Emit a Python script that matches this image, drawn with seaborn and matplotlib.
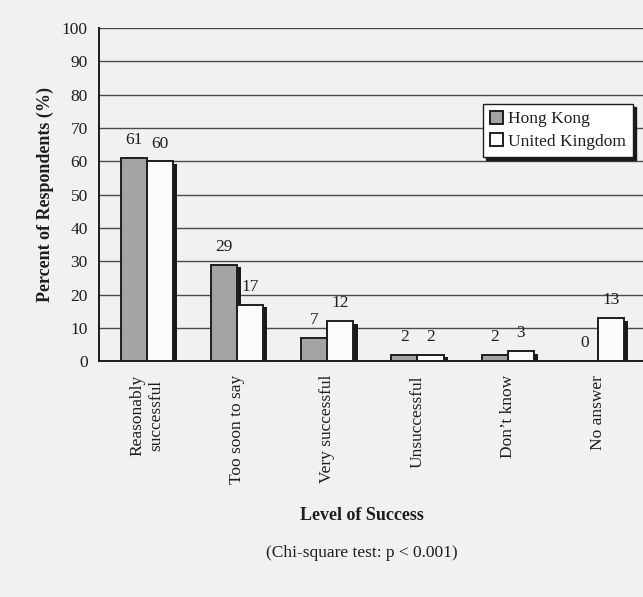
import pandas as pd
import matplotlib
matplotlib.use("Agg")
import matplotlib.pyplot as plt
import matplotlib.patheffects as pe
from matplotlib.patches import Patch
import seaborn as sns

# data
categories = ["Reasonably\nsuccessful", "Too soon to say", "Very successful",
              "Unsuccessful", "Don\u2019t know", "No answer"]
hong_kong = [61, 29, 7, 2, 2, 0]
united_kingdom = [60, 17, 12, 2, 3, 13]
groups = ["Hong Kong", "United Kingdom"]

df = pd.DataFrame({
    "category": categories * 2,
    "group": [groups[0]] * len(categories) + [groups[1]] * len(categories),
    "value": hong_kong + united_kingdom,
})

bg = "#f1f1f1"
ink = "#1e1e1e"
colors = {"Hong Kong": "#a3a3a3", "United Kingdom": "#fbfbfb"}

sns.set_style("white")
plt.rcParams["font.family"] = ["Liberation Serif", "DejaVu Serif"]
plt.rcParams["text.color"] = ink
plt.rcParams["axes.labelcolor"] = ink
plt.rcParams["xtick.color"] = ink
plt.rcParams["ytick.color"] = ink

fig = plt.figure(figsize=(6.43, 5.97), dpi=100, facecolor=bg)
ax = fig.add_axes([0.154, 0.395, 0.846, 0.558])
ax.set_facecolor(bg)

sns.barplot(data=df, x="category", y="value", hue="group", palette=colors,
            order=categories, hue_order=groups, width=0.58, gap=0,
            edgecolor=ink, linewidth=1.4, legend=False, ax=ax, zorder=3)

# dark drop shadow on the right side of each bar
shadow = [pe.SimplePatchShadow(offset=(3, -2), shadow_rgbFace="#1a1a1a", alpha=1.0),
          pe.Normal()]
for p in ax.patches:
    p.set_path_effects(shadow)

for cont in ax.containers:
    ax.bar_label(cont, padding=7, fontsize=12.5, color=ink)

ax.set_ylim(0, 100)
ax.set_xlim(-0.53, 5.46)
ax.set_yticks(range(0, 101, 10))
ax.yaxis.grid(True, color="#4a4a4a", linewidth=1.0, zorder=0)
ax.set_axisbelow(True)

ax.set_xticks(range(len(categories)))
ax.set_xticklabels(categories, rotation=90, fontsize=12.5, va="top", ha="center",
                   linespacing=1.25)
ax.set_xticks([i + 0.5 for i in range(len(categories))], minor=True)
ax.tick_params(axis="x", which="major", length=0, pad=10)
ax.tick_params(axis="x", which="minor", length=5, width=1, direction="out")
ax.tick_params(axis="y", length=8, width=1, direction="inout", labelsize=12.5, pad=4)

for s in ["top", "right"]:
    ax.spines[s].set_visible(False)
for s in ["left", "bottom"]:
    ax.spines[s].set_color(ink)
    ax.spines[s].set_linewidth(1.4)

ax.set_xlabel("")
ax.set_ylabel("Percent of Respondents (%)", fontsize=13, fontweight="bold", labelpad=6)

handles = [Patch(facecolor=colors[g], edgecolor=ink, linewidth=1.4, label=g) for g in groups]
leg = ax.legend(handles=handles, loc="upper left", bbox_to_anchor=(0.706, 0.772),
                fontsize=12.5, frameon=True, fancybox=False,
                shadow={"color": "#1a1a1a", "alpha": 1.0},
                handlelength=0.75, handleheight=0.75, handletextpad=0.3,
                borderpad=0.4, labelspacing=0.35, borderaxespad=0)
leg.get_frame().set_edgecolor(ink)
leg.get_frame().set_facecolor("white")
leg.get_frame().set_linewidth(1.0)

fig.text(362 / 643, 1 - 516 / 597, "Level of Success", ha="center", va="center",
         fontsize=13, fontweight="bold")
fig.text(362 / 643, 1 - 553 / 597, "(Chi-square test: p < 0.001)", ha="center",
         va="center", fontsize=12.5)

fig.savefig("out.png", dpi=100, facecolor=bg)
